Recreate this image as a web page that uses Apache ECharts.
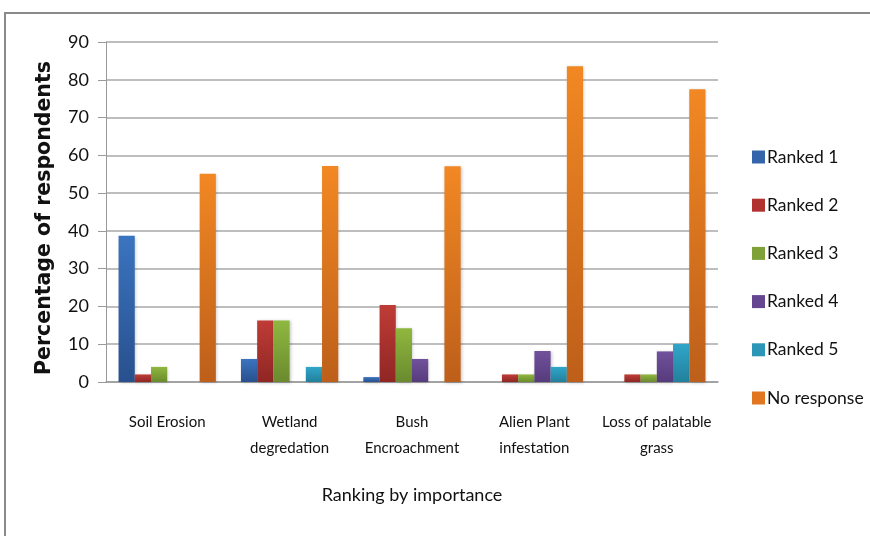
<!DOCTYPE html>
<html>
<head>
<meta charset="utf-8">
<script src="https://cdn.jsdelivr.net/npm/echarts@6/dist/echarts.min.js"></script>
<style>
  html, body { margin: 0; padding: 0; background: #ffffff; }
  #chart { width: 870px; height: 536px; }
</style>
</head>
<body>
<div id="chart"></div>
<script>
// Problems ranked by importance, % of respondents
const categories = ['Soil Erosion', 'Wetland\ndegredation', 'Bush\nEncroachment', 'Alien Plant\ninfestation', 'Loss of palatable\ngrass'];
const ranked1 = [38.7, 6.1, 1.3, 0, 0];
const ranked2 = [2.0, 16.3, 20.4, 2.0, 2.0];
const ranked3 = [4.0, 16.3, 14.2, 2.0, 2.0];
const ranked4 = [0, 0, 6.1, 8.2, 8.1];
const ranked5 = [0, 4.0, 0, 4.0, 10.1];
const noResponse = [55.1, 57.2, 57.1, 83.6, 77.5];
const yTicks = [0, 10, 20, 30, 40, 50, 60, 70, 80, 90];

const seriesNames = ['Ranked 1', 'Ranked 2', 'Ranked 3', 'Ranked 4', 'Ranked 5', 'No response'];
const seriesData = [ranked1, ranked2, ranked3, ranked4, ranked5, noResponse];
// top / bottom shades for each series' vertical gradient
const shades = [
  ['#3b74bf', '#28508e'],
  ['#c03c36', '#8f2624'],
  ['#8fb83f', '#6a8a2e'],
  ['#71519c', '#563b7c'],
  ['#30a6c9', '#23809c'],
  ['#f28823', '#bd5f1a']
];
const legendColors = ['#3464aa', '#b03330', '#7fa238', '#654690', '#2b96b5', '#e07620'];

const textFont = 'Lato, "Liberation Sans", sans-serif';

const chart = echarts.init(document.getElementById('chart'));

const series = seriesNames.map((name, i) => ({
  name: name,
  type: 'bar',
  data: seriesData[i],
  barGap: '0%',
  barCategoryGap: '20.5%',
  itemStyle: {
    color: new echarts.graphic.LinearGradient(0, 0, 0, 1, [
      { offset: 0, color: shades[i][0] },
      { offset: 1, color: shades[i][1] }
    ]),
    shadowColor: 'rgba(0,0,0,0.22)',
    shadowBlur: 3,
    shadowOffsetX: 1,
    shadowOffsetY: 1
  },
  emphasis: { disabled: true }
}));

chart.setOption({
  animation: false,
  backgroundColor: '#ffffff',
  graphic: [{
    type: 'rect',
    shape: { x: 5, y: 13, width: 900, height: 600 },
    style: { fill: 'none', stroke: '#8a8a8a', lineWidth: 2 },
    z: 0
  }],
  legend: {
    orient: 'vertical',
    left: 747,
    top: 143,
    itemWidth: 13,
    itemHeight: 13,
    itemGap: 30.2,
    icon: 'rect',
    data: seriesNames.map((n, i) => ({ name: n, itemStyle: { color: legendColors[i], shadowBlur: 0 } })),
    textStyle: { fontFamily: textFont, fontSize: 17.5, color: '#111111', padding: [0, 0, 0, -3] }
  },
  grid: { left: 106, right: 152, top: 42, bottom: 154 },
  xAxis: {
    type: 'category',
    data: categories,
    name: 'Ranking by importance',
    nameLocation: 'middle',
    nameGap: 104,
    nameTextStyle: { fontFamily: textFont, fontSize: 18, color: '#111111' },
    axisLine: { lineStyle: { color: '#9a9a9a', width: 1.5 } },
    axisTick: { show: false },
    axisLabel: {
      interval: 0,
      margin: 27,
      fontFamily: textFont,
      fontSize: 15,
      lineHeight: 26,
      color: '#111111',
      verticalAlign: 'top'
    }
  },
  yAxis: {
    type: 'value',
    min: 0,
    max: 90,
    interval: 10,
    name: 'Percentage of respondents',
    nameLocation: 'middle',
    nameGap: 51,
    nameTextStyle: {
      fontFamily: '"DejaVu Sans", sans-serif',
      fontSize: 20.5,
      fontWeight: 'bold',
      color: '#111111',
      padding: [0, 12, 0, 0]
    },
    axisLine: { show: true, lineStyle: { color: '#9a9a9a', width: 1 } },
    axisTick: { show: true, length: 8, lineStyle: { color: '#9a9a9a' } },
    splitLine: { lineStyle: { color: '#a8a8a8', width: 1.5 } },
    axisLabel: {
      margin: 17,
      fontFamily: textFont,
      fontSize: 18,
      color: '#111111',
      formatter: v => (yTicks.indexOf(v) >= 0 ? String(v) : '')
    }
  },
  series: series
});
</script>
</body>
</html>
